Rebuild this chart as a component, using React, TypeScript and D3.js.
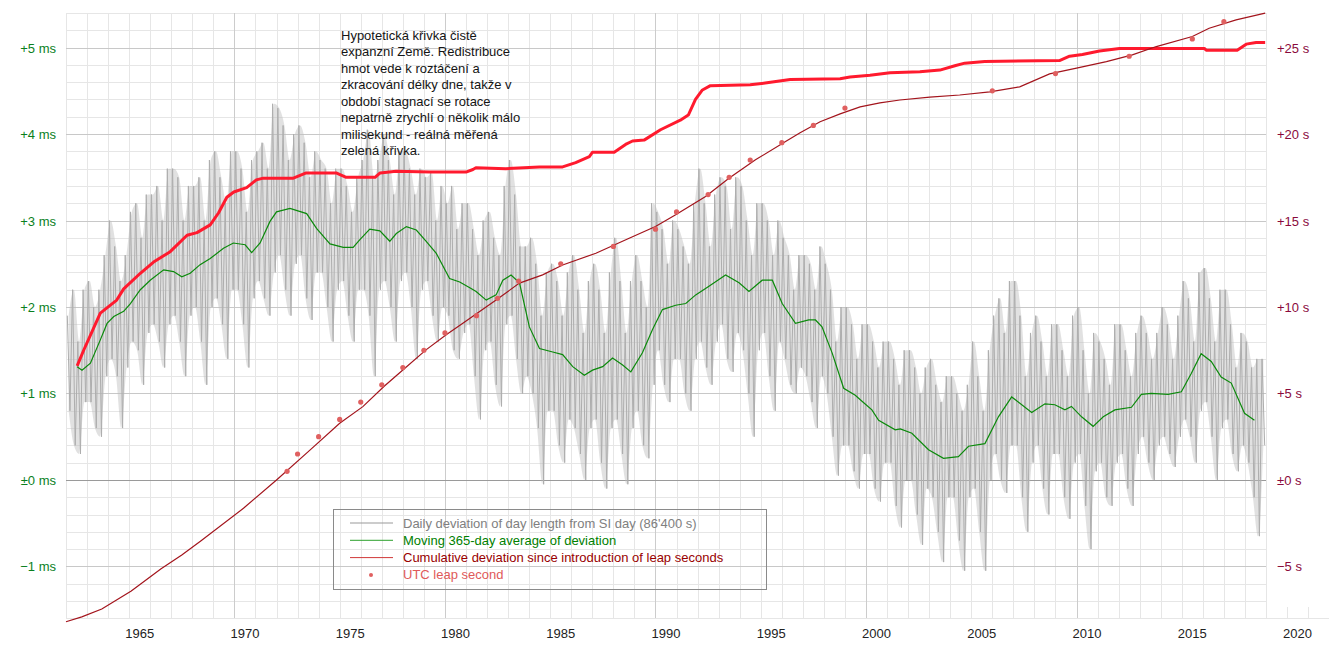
import React from 'react';
import * as d3 from 'd3';

const W = 1329;
const H = 645;
const FONT = '"Liberation Sans", Arial, Helvetica, sans-serif';

// ---- axis ticks and labels ----
const yearLabels = [1965, 1970, 1975, 1980, 1985, 1990, 1995, 2000, 2005, 2010, 2015, 2020];
const msTicks = [-1, 0, 1, 2, 3, 4, 5];
const msLabels = ['\u22121 ms', '\u00b10 ms', '+1 ms', '+2 ms', '+3 ms', '+4 ms', '+5 ms'];
const secTicks = [-5, 0, 5, 10, 15, 20, 25];
const secLabels = ['\u22125 s', '\u00b10 s', '+5 s', '+10 s', '+15 s', '+20 s', '+25 s'];

// ---- daily deviation (ms): quarterly spike tops / bottoms, from 1962 Q1 ----
const GRAY_START = 1962;
const grayHi = [
  1.9, 2.2, 1.6, 2.2, 2.3, 2.0, 2.2, 2.6, 3.0, 2.7, 2.3, 2.6, 3.1, 3.2, 2.8, 3.3,
  3.3, 3.4, 3.0, 3.6, 3.6, 3.5, 3.0, 3.4, 3.4, 3.5, 3.0, 3.7, 3.8, 3.5, 3.2, 3.8,
  3.8, 3.6, 3.1, 3.7, 3.8, 3.9, 3.6, 4.35, 4.3, 4.1, 3.7, 4.0, 4.1, 3.9, 3.5, 3.8,
  3.7, 3.6, 3.2, 3.6, 3.6, 3.4, 3.1, 3.5, 3.7, 4.05, 3.5, 3.7, 4.0, 3.7, 3.3, 3.8,
  3.8, 3.6, 3.3, 3.6, 3.5, 3.55, 3.0, 3.4, 3.2, 3.4, 2.9, 3.2, 3.2, 2.9, 2.6, 3.0,
  3.1, 2.8, 2.6, 3.4, 3.7, 3.3, 2.7, 2.7, 2.8, 2.5, 1.9, 2.4, 2.5, 2.3, 1.9, 2.4,
  2.6, 2.2, 1.7, 2.3, 2.5, 2.2, 1.7, 2.4, 2.8, 2.3, 1.7, 2.3, 2.6, 2.3, 2.0, 3.2,
  3.1, 2.9, 2.5, 3.0, 2.9, 2.7, 2.5, 3.2, 3.6, 3.2, 2.7, 3.3, 3.5, 3.4, 2.9, 3.5,
  3.4, 3.0, 2.6, 3.2, 3.2, 3.0, 2.6, 3.0, 2.8, 2.6, 2.2, 2.6, 2.6, 2.5, 2.2, 2.7,
  2.5, 2.2, 1.6, 2.0, 2.0, 1.8, 1.4, 1.8, 1.8, 1.6, 1.3, 1.6, 1.6, 1.4, 1.1, 1.5,
  1.5, 1.3, 1.0, 1.3, 1.4, 1.1, 0.9, 1.2, 1.2, 1.0, 0.8, 1.1, 1.6, 1.2, 0.8, 1.5,
  1.9, 2.1, 1.7, 2.3, 2.3, 1.9, 1.2, 1.7, 1.9, 1.6, 1.2, 1.8, 1.8, 1.5, 1.2, 1.9,
  2.0, 1.5, 1.0, 1.7, 1.6, 1.4, 1.1, 1.8, 1.8, 1.5, 1.2, 1.7, 1.9, 1.7, 1.4, 1.7,
  2.0, 1.8, 1.4, 1.9, 2.3, 2.1, 1.6, 2.4, 2.45, 2.1, 1.6, 2.2, 2.2, 1.8, 1.3, 1.7,
  1.6, 1.3, 1.4, 1.4,
];
const grayLo = [
  0.8, 0.4, 0.3, 0.9, 0.9, 0.6, 0.5, 1.2, 1.4, 1.2, 0.6, 1.3, 1.6, 1.5, 1.1, 1.7,
  1.8, 1.6, 1.3, 1.8, 1.9, 1.6, 1.2, 1.9, 2.0, 1.6, 1.1, 2.0, 2.1, 1.8, 1.4, 2.2,
  2.2, 1.8, 1.3, 2.1, 2.3, 2.1, 1.9, 2.4, 2.6, 2.2, 1.9, 2.5, 2.6, 2.1, 1.85, 2.4,
  2.4, 2.0, 1.6, 2.2, 2.3, 1.9, 1.6, 2.2, 2.2, 1.9, 1.2, 2.2, 2.3, 2.0, 1.6, 2.3,
  2.4, 2.0, 1.4, 2.2, 2.3, 1.9, 1.6, 2.0, 1.9, 1.5, 1.4, 1.7, 1.8, 1.2, 0.7, 1.5,
  1.6, 1.1, 0.85, 1.8, 1.9, 1.4, 1.0, 1.2, 1.0, 0.6, -0.05, 0.8, 0.8, 0.4, 0.2, 0.7,
  0.6, 0.3, 0.0, 0.6, 0.7, 0.2, -0.1, 0.6, 0.7, 0.3, -0.05, 0.6, 0.8, 0.4, 0.25, 1.1,
  1.5, 1.1, 0.9, 1.4, 1.4, 1.0, 0.8, 1.4, 1.6, 1.3, 1.1, 1.6, 1.8, 1.4, 1.25, 1.7,
  1.5, 1.0, 0.5, 1.5, 1.7, 1.2, 0.8, 1.6, 1.4, 1.1, 1.0, 1.3, 1.2, 0.9, 0.6, 1.2,
  1.0, 0.5, 0.05, 0.4, 0.4, 0.1, -0.1, 0.3, 0.3, -0.1, -0.25, 0.2, 0.2, -0.3, -0.55, 0.0,
  0.0, -0.4, -0.75, -0.1, -0.2, -0.6, -0.95, -0.2, -0.2, -0.7, -1.05, -0.2, -0.1, -0.6, -1.05, 0.0,
  0.3, 0.0, -0.15, 0.4, 0.4, -0.2, -0.6, 0.2, 0.4, -0.1, -0.4, 0.3, 0.3, -0.2, -0.45, 0.2,
  0.3, -0.3, -0.8, 0.1, 0.2, -0.2, -0.3, 0.2, 0.3, -0.1, -0.3, 0.3, 0.5, 0.2, 0.0, 0.4,
  0.5, 0.3, 0.15, 0.5, 0.7, 0.5, 0.2, 0.8, 0.9, 0.5, 0.0, 0.6, 0.7, 0.3, 0.1, 0.4,
  0.2, -0.2, -0.65, 0.4,
];

// ---- moving 365-day average (year, ms) ----
const movingAvg: [number, number][] = [
  [1962.53, 1.31], [1962.76, 1.27], [1963.16, 1.35], [1963.63, 1.62], [1963.95, 1.81],
  [1964.27, 1.89], [1964.74, 1.95], [1965.06, 2.04], [1965.53, 2.2], [1966.0, 2.31],
  [1966.64, 2.43], [1967.11, 2.41], [1967.5, 2.35], [1967.9, 2.39], [1968.37, 2.49],
  [1968.85, 2.56], [1969.48, 2.68], [1969.95, 2.74], [1970.51, 2.72], [1970.82, 2.63],
  [1971.22, 2.74], [1971.69, 2.99], [1972.0, 3.1], [1972.64, 3.14], [1973.43, 3.08],
  [1973.9, 2.91], [1974.54, 2.73], [1975.17, 2.69], [1975.64, 2.69], [1975.96, 2.78],
  [1976.43, 2.9], [1976.91, 2.88], [1977.38, 2.76], [1977.69, 2.85], [1978.17, 2.93],
  [1978.64, 2.89], [1979.11, 2.76], [1979.59, 2.62], [1980.22, 2.33], [1980.7, 2.29],
  [1981.2, 2.22], [1981.48, 2.18], [1981.96, 2.08], [1982.43, 2.14], [1982.75, 2.31],
  [1983.14, 2.37], [1983.54, 2.28], [1984.01, 1.77], [1984.49, 1.52], [1985.12, 1.48],
  [1985.59, 1.45], [1986.07, 1.31], [1986.62, 1.21], [1987.01, 1.27], [1987.49, 1.31],
  [1987.96, 1.41], [1988.44, 1.33], [1988.83, 1.25], [1989.38, 1.47], [1989.86, 1.74],
  [1990.33, 1.97], [1990.96, 2.02], [1991.44, 2.04], [1991.91, 2.14], [1992.54, 2.24],
  [1993.33, 2.37], [1993.97, 2.28], [1994.44, 2.18], [1995.07, 2.31], [1995.55, 2.31],
  [1996.02, 2.04], [1996.65, 1.81], [1997.28, 1.85], [1997.6, 1.85], [1997.91, 1.77],
  [1998.39, 1.47], [1998.94, 1.06], [1999.49, 0.98], [1999.81, 0.91], [2000.28, 0.81],
  [2000.6, 0.69], [2001.39, 0.58], [2001.63, 0.59], [2002.18, 0.54], [2002.97, 0.35],
  [2003.68, 0.25], [2004.39, 0.27], [2004.87, 0.39], [2005.65, 0.42], [2006.29, 0.73],
  [2006.92, 0.96], [2007.87, 0.78], [2008.5, 0.88], [2008.97, 0.87], [2009.45, 0.81],
  [2009.76, 0.85], [2010.24, 0.73], [2010.79, 0.62], [2011.27, 0.73], [2011.82, 0.81],
  [2012.61, 0.84], [2013.08, 0.99], [2013.55, 1.0], [2014.35, 0.99], [2014.98, 1.02],
  [2015.45, 1.23], [2015.92, 1.46], [2016.4, 1.37], [2016.87, 1.19], [2017.35, 1.12],
  [2017.98, 0.77], [2018.45, 0.69],
];

// ---- hypothetical curve of a purely expanding Earth (year, ms) ----
const hypothetical: [number, number][] = [
  [1962.53, 1.32], [1962.84, 1.5], [1963.63, 1.93], [1964.41, 2.08], [1964.74, 2.21],
  [1965.53, 2.39], [1966.16, 2.52], [1966.95, 2.64], [1967.75, 2.83], [1968.22, 2.86],
  [1968.85, 2.95], [1969.25, 3.09], [1969.64, 3.27], [1969.97, 3.33], [1970.58, 3.38],
  [1971.04, 3.47], [1971.37, 3.49], [1972.8, 3.49], [1973.41, 3.55], [1974.83, 3.55],
  [1975.31, 3.5], [1976.68, 3.5], [1976.92, 3.55], [1977.68, 3.57], [1979.29, 3.56],
  [1981.0, 3.56], [1981.33, 3.59], [1981.47, 3.61], [1982.89, 3.6], [1984.49, 3.62],
  [1985.59, 3.62], [1986.21, 3.67], [1986.86, 3.74], [1987.01, 3.79], [1988.04, 3.79],
  [1988.58, 3.88], [1988.91, 3.92], [1989.46, 3.93], [1990.24, 4.05], [1991.18, 4.16],
  [1991.56, 4.22], [1991.9, 4.4], [1992.23, 4.51], [1992.61, 4.56], [1994.5, 4.57],
  [1995.21, 4.59], [1996.4, 4.63], [1998.77, 4.64], [1999.24, 4.66], [2000.19, 4.68],
  [2001.14, 4.71], [2002.56, 4.72], [2003.51, 4.74], [2004.22, 4.79], [2004.69, 4.82],
  [2005.64, 4.84], [2009.19, 4.85], [2009.67, 4.9], [2010.28, 4.92], [2011.09, 4.96],
  [2012.04, 4.99], [2016.07, 4.99], [2016.16, 4.97], [2017.63, 4.97], [2018.06, 5.04],
  [2018.53, 5.06], [2018.96, 5.06],
];

// ---- cumulative deviation since introduction of leap seconds (year, s) ----
const cumulative: [number, number][] = [
  [1962.0, -8.2], [1962.75, -7.92], [1963.7, -7.46], [1965.1, -6.42], [1966.5, -5.15],
  [1967.5, -4.34], [1968.4, -3.53], [1970.43, -1.64], [1972.0, 0.0], [1973.6, 1.74],
  [1975.0, 3.28], [1976.1, 4.24], [1977.1, 5.4], [1978.0, 6.36], [1979.1, 7.52],
  [1980.06, 8.39], [1980.85, 9.06], [1982.43, 10.41], [1983.54, 11.38], [1984.64, 11.86],
  [1985.59, 12.43], [1987.17, 13.11], [1988.75, 13.98], [1990.0, 14.65], [1990.96, 15.33],
  [1992.38, 16.39], [1993.49, 17.45], [1994.75, 18.51], [1996.18, 19.57], [1996.87, 20.07],
  [1997.82, 20.71], [1998.77, 21.17], [1999.72, 21.57], [2000.66, 21.8], [2001.61, 21.97],
  [2003.03, 22.14], [2004.45, 22.26], [2005.88, 22.44], [2007.3, 22.73], [2008.72, 23.48],
  [2010.0, 23.81], [2011.42, 24.19], [2012.65, 24.58], [2013.79, 25.06], [2015.5, 25.64],
  [2016.3, 26.12], [2017.58, 26.6], [2018.96, 26.99],
];

// ---- UTC leap seconds: effective date and running count (s) ----
const leapDates = [
  1972.5, 1973.0, 1974.0, 1975.0, 1976.0, 1977.0, 1978.0, 1979.0, 1980.0, 1981.5,
  1982.5, 1983.5, 1985.5, 1988.0, 1990.0, 1991.0, 1992.5, 1993.5, 1994.5, 1996.0,
  1997.5, 1999.0, 2006.0, 2009.0, 2012.5, 2015.5, 2017.0,
];
const leapMarks = [
  0.5, 1.5, 2.5, 3.5, 4.5, 5.5, 6.5, 7.5, 8.5, 9.5, 10.5, 11.5, 12.5, 13.5, 14.5,
  15.5, 16.5, 17.5, 18.5, 19.5, 20.5, 21.5, 22.5, 23.5, 24.5, 25.5, 26.5,
];

const noteLines = [
  'Hypotetická křivka čistě',
  'expanzní Země. Redistribuce',
  'hmot vede k roztáčení a',
  'zkracování délky dne, takže v',
  'období stagnací se rotace',
  'nepatrně zrychlí o několik málo',
  'milisekund - reálná měřená',
  'zelená křivka.',
];

const legendLabels = [
  "Daily deviation of day length from SI day (86'400 s)",
  'Moving 365-day average of deviation',
  'Cumulative deviation since introduction of leap seconds',
  'UTC leap second',
];

export default function App() {
  const left = 66;
  const right = 1266;
  const top = 13;
  const bottom = 618.3;

  const x = d3.scaleLinear().domain([1962, 2019]).range([left, right]);
  const yMs = d3.scaleLinear().domain([-1.6, 5.4]).range([bottom, top]);
  const ySec = d3.scaleLinear().domain([-8, 27]).range([bottom, top]);
  const crisp = (v: number) => Math.round(v) + 0.5;

  // daily series: each quarter contributes a spike top and a spike bottom
  const grayPts: [number, number][] = [];
  grayHi.forEach((hi, i) => {
    const t = GRAY_START + i * 0.25;
    grayPts.push([t + 0.0625, hi]);
    grayPts.push([t + 0.1875, grayLo[i]]);
  });
  // the band the daily values sweep through, quarter by quarter
  const bandIdx = d3.range(grayHi.length);
  const band = d3
    .area<number>()
    .x((i) => x(GRAY_START + i * 0.25 + 0.125))
    .y0((i) => yMs(grayLo[i]))
    .y1((i) => yMs(grayHi[i]))
    .curve(d3.curveMonotoneX);

  const msLine = d3
    .line<[number, number]>()
    .x((d) => x(d[0]))
    .y((d) => yMs(d[1]));
  const secLine = d3
    .line<[number, number]>()
    .x((d) => x(d[0]))
    .y((d) => ySec(d[1]));

  const hLines = d3.range(-8, 28).map((i) => ({ v: i / 5, major: i % 5 === 0, zero: i === 0 }));
  const vLines = d3.range(1962, 2020).map((yr) => ({ yr, major: yr % 10 === 0 }));

  const legendColors = ['#808080', '#008000', '#990000', '#e05a5a'];

  return (
    <div style={{ position: 'absolute', left: 0, top: 0 }}>
      <svg width={W} height={H} style={{ display: 'block', fontFamily: FONT }}>
        <rect x={0} y={0} width={W} height={H} fill="#ffffff" />

        {/* grid */}
        <g shapeRendering="crispEdges">
          {hLines
            .filter((d) => !d.major)
            .map((d) => (
              <line key={'hm' + d.v} x1={left} x2={right} y1={crisp(yMs(d.v))} y2={crisp(yMs(d.v))} stroke="#e6e6e6" />
            ))}
          {vLines
            .filter((d) => !d.major)
            .map((d) => (
              <line key={'vm' + d.yr} x1={crisp(x(d.yr))} x2={crisp(x(d.yr))} y1={top} y2={bottom} stroke="#e6e6e6" />
            ))}
          {[2020, 2021].map((yr) => (
            <line key={'vx' + yr} x1={crisp(x(yr))} x2={crisp(x(yr))} y1={607} y2={bottom} stroke="#e6e6e6" />
          ))}
          <line x1={right} x2={W} y1={crisp(bottom)} y2={crisp(bottom)} stroke="#e6e6e6" />
          {vLines
            .filter((d) => d.major)
            .map((d) => (
              <line key={'vM' + d.yr} x1={crisp(x(d.yr))} x2={crisp(x(d.yr))} y1={top} y2={bottom} stroke="#cccccc" />
            ))}
          {hLines
            .filter((d) => d.major)
            .map((d) => (
              <line
                key={'hM' + d.v}
                x1={left}
                x2={right}
                y1={crisp(yMs(d.v))}
                y2={crisp(yMs(d.v))}
                stroke={d.zero ? '#9a9a9a' : '#c8c8c8'}
              />
            ))}
        </g>

        {/* daily deviation */}
        <path d={band(bandIdx) || ''} fill="#bdbdbd" fillOpacity={0.45} stroke="none" />
        <path d={msLine(grayPts) || ''} fill="none" stroke="#aeaeae" strokeWidth={1} />

        {/* moving average */}
        <path d={msLine(movingAvg) || ''} fill="none" stroke="#0b8a0b" strokeWidth={1.2} />

        {/* hypothetical expanding-Earth curve */}
        <path d={msLine(hypothetical) || ''} fill="none" stroke="#ff1a2e" strokeWidth={3} strokeLinejoin="round" />

        {/* cumulative deviation */}
        <path d={secLine(cumulative) || ''} fill="none" stroke="#a3141c" strokeWidth={1.2} />

        {/* leap seconds */}
        {leapDates.map((t, i) => (
          <circle key={'ls' + i} cx={x(t)} cy={ySec(leapMarks[i])} r={2.6} fill="#e06060" />
        ))}

        {/* left axis */}
        {msTicks.map((v, i) => (
          <text key={'ml' + v} x={56} y={yMs(v) + 5} textAnchor="end" fontSize={13} fill="#0a7f1e">
            {msLabels[i]}
          </text>
        ))}

        {/* right axis */}
        {secTicks.map((v, i) => (
          <text key={'sl' + v} x={1277} y={ySec(v) + 5} textAnchor="start" fontSize={13} fill="#8a0a3c">
            {secLabels[i]}
          </text>
        ))}

        {/* bottom axis */}
        {yearLabels.map((yr) => (
          <text key={'yl' + yr} x={x(yr + 0.5)} y={638} textAnchor="middle" fontSize={13} fill="#222222">
            {yr}
          </text>
        ))}

        {/* annotation */}
        {noteLines.map((s, i) => (
          <text key={'n' + i} x={341} y={40 + i * 16.45} fontSize={13} fill="#141414">
            {s}
          </text>
        ))}

        {/* legend */}
        <rect x={333.5} y={509.5} width={433} height={80} fill="none" stroke="#8a8a8a" strokeWidth={1} />
        {legendLabels.map((s, i) => {
          const cy = 523 + i * 17.3;
          return (
            <g key={'lg' + i}>
              {i < 3 ? (
                <line
                  x1={350}
                  x2={393}
                  y1={cy}
                  y2={cy}
                  stroke={['#999999', '#2ca02c', '#d03838'][i]}
                  strokeWidth={1}
                />
              ) : (
                <circle cx={371} cy={cy} r={2} fill="#e06060" />
              )}
              <text x={403} y={cy + 4.5} fontSize={13} fill={legendColors[i]}>
                {s}
              </text>
            </g>
          );
        })}
      </svg>
    </div>
  );
}
